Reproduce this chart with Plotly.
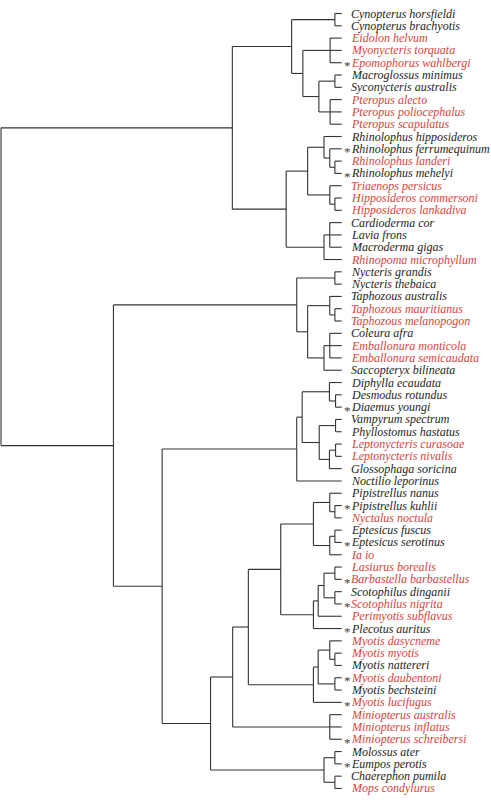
import plotly.graph_objects as go

# ---- data ----
species = [
    "Cynopterus horsfieldi", "Cynopterus brachyotis", "Eidolon helvum", "Myonycteris torquata",
    "Epomophorus wahlbergi", "Macroglossus minimus", "Syconycteris australis", "Pteropus alecto",
    "Pteropus poliocephalus", "Pteropus scapulatus", "Rhinolophus hipposideros", "Rhinolophus ferrumequinum",
    "Rhinolophus landeri", "Rhinolophus mehelyi", "Triaenops persicus", "Hipposideros commersoni",
    "Hipposideros lankadiva", "Cardioderma cor", "Lavia frons", "Macroderma gigas",
    "Rhinopoma microphyllum", "Nycteris grandis", "Nycteris thebaica", "Taphozous australis",
    "Taphozous mauritianus", "Taphozous melanopogon", "Coleura afra", "Emballonura monticola",
    "Emballonura semicaudata", "Saccopteryx bilineata", "Diphylla ecaudata", "Desmodus rotundus",
    "Diaemus youngi", "Vampyrum spectrum", "Phyllostomus hastatus", "Leptonycteris curasoae",
    "Leptonycteris nivalis", "Glossophaga soricina", "Noctilio leporinus", "Pipistrellus nanus",
    "Pipistrellus kuhlii", "Nyctalus noctula", "Eptesicus fuscus", "Eptesicus serotinus",
    "Ia io", "Lasiurus borealis", "Barbastella barbastellus", "Scotophilus dinganii",
    "Scotophilus nigrita", "Perimyotis subflavus", "Plecotus auritus", "Myotis dasycneme",
    "Myotis myotis", "Myotis nattereri", "Myotis daubentoni", "Myotis bechsteini",
    "Myotis lucifugus", "Miniopterus australis", "Miniopterus inflatus", "Miniopterus schreibersi",
    "Molossus ater", "Eumpos perotis", "Chaerephon pumila", "Mops condylurus",
]
highlighted = [0, 0, 1, 1, 1, 0, 0, 1, 1, 1,
               0, 0, 1, 0, 1, 1, 1, 0, 0, 0,
               1, 0, 0, 0, 1, 1, 0, 1, 1, 0,
               0, 0, 0, 0, 0, 1, 1, 0, 0, 0,
               0, 1, 0, 0, 1, 1, 1, 0, 1, 1,
               0, 1, 1, 0, 1, 0, 1, 1, 1, 1,
               0, 0, 0, 1]
starred = [0, 0, 0, 0, 1, 0, 0, 0, 0, 0,
           0, 1, 0, 1, 0, 0, 0, 0, 0, 0,
           0, 0, 0, 0, 0, 0, 0, 0, 0, 0,
           0, 0, 1, 0, 0, 0, 0, 0, 0, 0,
           1, 0, 0, 1, 0, 0, 1, 0, 1, 0,
           1, 0, 0, 0, 1, 0, 1, 0, 0, 1,
           0, 1, 0, 0]

# tree topology: leaves are indices into `species`, internal labels are node depths (root 0, tips 100)
pteropodidae = "((0,1)98.0,((2,3,4)96.6,((5,6)98.0,(7,8,9)96.6)93.3)88.6)85.3"
rhinolophoidea = "(((10,(11,(12,13)98.0)96.5)94.8,(14,(15,16)98.0)96.5)90.0,((17,18,19)96.5,20)94.8)83.7"
nyct_emb = "((21,22)98.0,((23,(24,25)98.0)96.5,((26,27,28)96.5,29)94.8)90.0)86.8"
noctilionoidea = "(((30,(31,32)98.2)96.4,((33,34)98.2,((35,36)98.2,37)96.4)93.4)88.4,38)86.8"
vesper_core = "(((39,(40,41)98.0)96.5,((42,43)98.0,44)96.5)91.7,((((45,46)98.0,(47,48)98.0)94.8,49)93.1,50)91.7)82.1"
myotis = "(((51,(52,53)98.0)96.5,(54,55)98.0)93.1,56)91.7"
miniopterus = "(57,58,59)96.5"
molossidae = "((60,61)98.0,(62,63)98.0)94.8"
tip_depth = 100.0

newick = ("((" + pteropodidae + "," + rhinolophoidea + ")67.9,"
          "(" + nyct_emb + ",(" + noctilionoidea + ",(((" + vesper_core + "," + myotis + ")72.6,"
          + miniopterus + ")68.0," + molossidae + ")61.5)47.3)33.0)0")


def parse(s):
    pos = 0

    def node():
        nonlocal pos
        if s[pos] == "(":
            pos += 1
            kids = [node()]
            while s[pos] == ",":
                pos += 1
                kids.append(node())
            pos += 1  # ')'
            st = pos
            while pos < len(s) and s[pos] not in ",()":
                pos += 1
            return {"depth": float(s[st:pos]), "kids": kids}
        st = pos
        while s[pos] not in ",()":
            pos += 1
        return {"leaf": int(s[st:pos])}
    return node()


tree = parse(newick)
xs, ys = [], []


def layout(n):
    if "leaf" in n:
        return tip_depth, n["leaf"]
    pts = [layout(k) for k in n["kids"]]
    d = n["depth"]
    yv = [p[1] for p in pts]
    xs.extend([d, d, None]); ys.extend([min(yv), max(yv), None])
    for (cx, cy) in pts:
        xs.extend([d, cx, None]); ys.extend([cy, cy, None])
    return d, (min(yv) + max(yv)) / 2


layout(tree)

fig = go.Figure()
fig.add_trace(go.Scatter(x=xs, y=ys, mode="lines", line=dict(color="#333333", width=1.1),
                         hoverinfo="skip", showlegend=False))

font_family = "Liberation Serif, Times New Roman, serif"
annotations = []
for i, name in enumerate(species):
    col = "#d9443b" if highlighted[i] else "#1e1e1e"
    annotations.append(dict(x=tip_depth, y=i, xref="x", yref="y", text=name, showarrow=False,
                            xanchor="left", yanchor="middle", xshift=8, borderpad=0,
                            font=dict(family=font_family, size=12, color=col, style="italic")))
    if starred[i]:
        annotations.append(dict(x=tip_depth, y=i, xref="x", yref="y", text="*", showarrow=False,
                                xanchor="right", yanchor="middle", xshift=10, yshift=-3,
                                borderpad=0,
                                font=dict(family=font_family, size=13, color="#444444")))

fig.update_layout(
    width=491, height=802, margin=dict(l=0, r=0, t=0, b=0),
    plot_bgcolor="white", paper_bgcolor="white",
    xaxis=dict(range=[-0.293, 143.82], visible=False, fixedrange=True),
    yaxis=dict(range=[64.1, -1.0976], visible=False, fixedrange=True),
    annotations=annotations, showlegend=False,
)
fig.write_html("out.html", config={"displayModeBar": False},
               post_script="document.body.style.margin='0';document.body.style.overflow='hidden';")
